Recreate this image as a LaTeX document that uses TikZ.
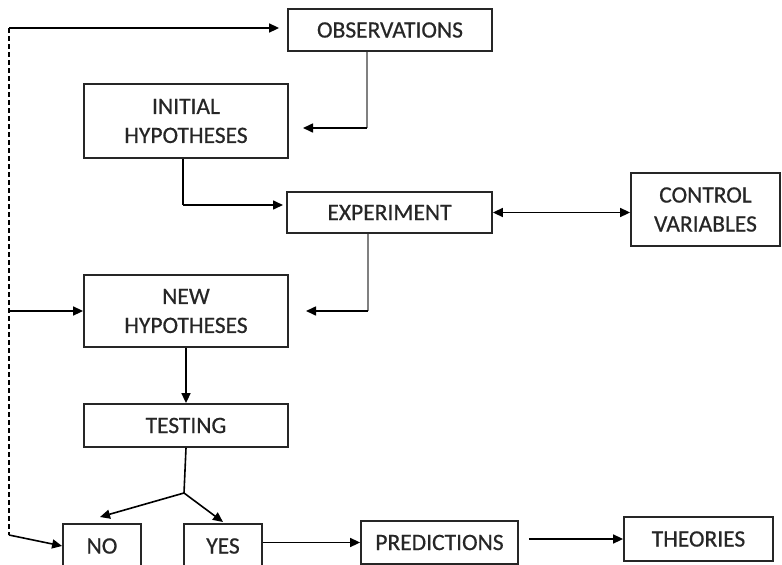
\documentclass[tikz,border=0pt]{standalone}
\usepackage{fontspec}
\setmainfont{Carlito}[FakeBold=0.6]
\usetikzlibrary{arrows.meta,calc}
\begin{document}
\begin{tikzpicture}[x=1pt,y=-1pt,
  box/.style={draw=black!85,line width=1.8pt,rectangle,inner sep=0pt,align=center,
    font=\fontsize{23.5}{29}\selectfont,text=black!85},
  conn/.style={line width=1.6pt,black},
  arr/.style={conn,-{Triangle[length=10pt,width=9pt]}},
  darr/.style={conn,{Triangle[length=10pt,width=9pt]}-{Triangle[length=10pt,width=9pt]}},
  grayline/.style={line width=2.4pt,black!50},
  dashline/.style={line width=1.3pt,dash pattern=on 5pt off 3pt}]
\useasboundingbox (0,0) rectangle (782,565);
\clip (0,0) rectangle (782,565);
% nodes
\node[box,minimum width=204pt,minimum height=42pt] (obs) at (390,30) {OBSERVATIONS};
\node[box,minimum width=204pt,minimum height=74pt] (init) at (186,121) {INITIAL\\HYPOTHESES};
\node[box,minimum width=205pt,minimum height=41pt] (exp) at (389.5,212.5) {EXPERIMENT};
\node[box,minimum width=149pt,minimum height=73pt] (ctrl) at (705.5,209.5) {CONTROL\\VARIABLES};
\node[box,minimum width=204pt,minimum height=72pt] (new) at (186,311) {NEW\\HYPOTHESES};
\node[box,minimum width=204pt,minimum height=43pt] (test) at (186,425.5) {TESTING};
\node[box,minimum width=78pt,minimum height=44pt] (no) at (102,546) {NO};
\node[box,minimum width=78pt,minimum height=44pt] (yes) at (223,546) {YES};
\node[box,minimum width=157pt,minimum height=43pt] (pred) at (439.5,542.5) {PREDICTIONS};
\node[box,minimum width=149pt,minimum height=44pt] (theo) at (698.5,539) {THEORIES};
% coordinates
\coordinate (d1) at (9,28);
\coordinate (d2) at (9,535);
\coordinate (dn) at (9,311);
\coordinate (c1) at (367,128);
\coordinate (t1) at (303,128);
\coordinate (c2) at (183,205);
\coordinate (t2) at (283,205);
\coordinate (c3) at (368,311);
\coordinate (t3) at (306,311);
\coordinate (br) at (184,493);
\coordinate (tno) at (100,517);
\coordinate (tyes) at (223,522);
% connectors
\draw[dashline] (d1) -- (d2);
\draw[arr] (d1) -- ([xshift=-8pt]d1 -| obs.west);
\draw[grayline] (obs.south -| c1) -- (c1);
\draw[arr] (c1) -- (t1);
\draw[conn] (init.south -| c2) -- (c2);
\draw[arr] (c2) -- (t2);
\draw[darr] (exp.east) -- (ctrl.west |- exp.east);
\draw[grayline] (exp.south -| c3) -- (c3);
\draw[arr] (c3) -- (t3);
\draw[arr] (dn) -- (new.west |- dn);
\draw[arr] (new.south) -- (test.north);
\draw[conn] (test.south) -- (br);
\draw[arr] (br) -- (tno);
\draw[arr] (br) -- (tyes);
\draw[arr] (d2) -- (no.west);
\draw[arr] (yes.east |- pred.west) -- (pred.west);
\draw[arr,shorten <=10pt] (pred.east |- theo.west) -- (theo.west);
\end{tikzpicture}
\end{document}
